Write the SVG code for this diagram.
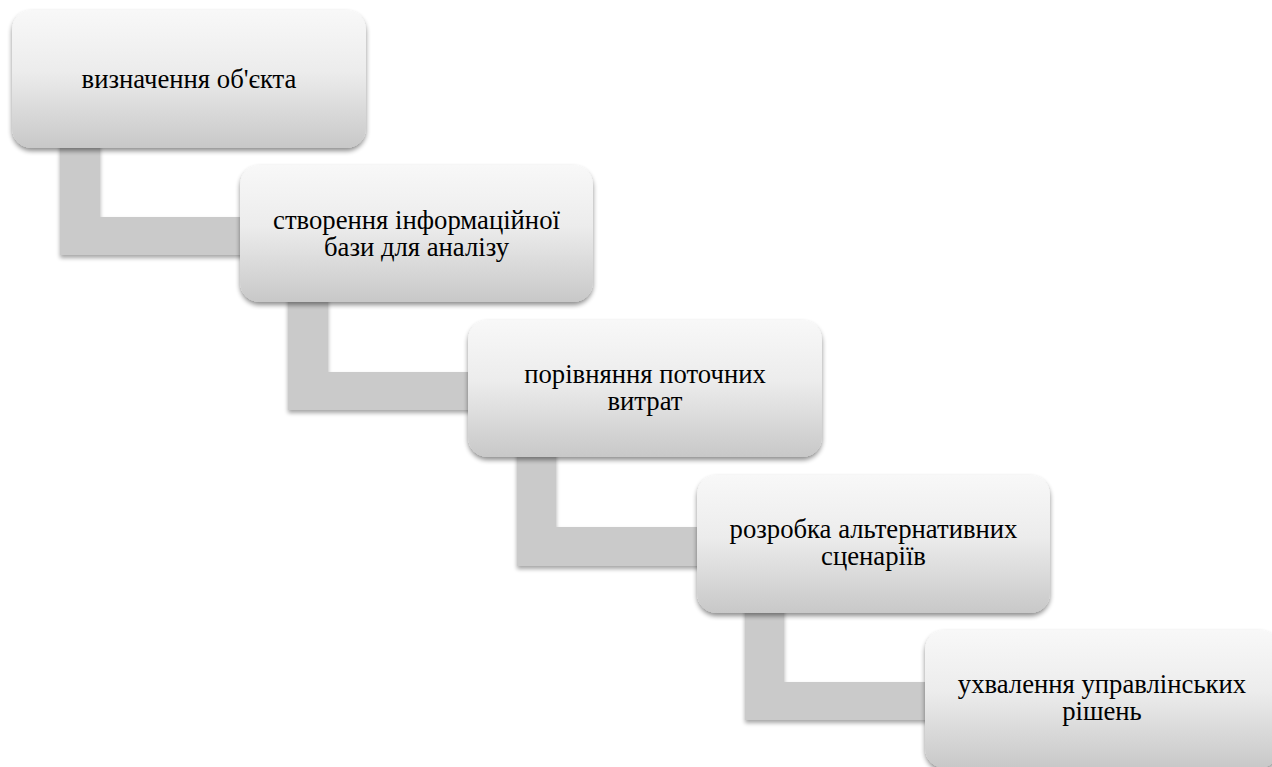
<svg xmlns="http://www.w3.org/2000/svg" width="1272" height="767" viewBox="0 0 1272 767">
  <defs>
    <linearGradient id="boxGrad" x1="0" y1="0" x2="0" y2="1">
      <stop offset="0" stop-color="#f8f8f8"/>
      <stop offset="0.45" stop-color="#ececec"/>
      <stop offset="1" stop-color="#c8c8c8"/>
    </linearGradient>
    <filter id="shadow" x="-10%" y="-10%" width="120%" height="125%">
      <feGaussianBlur in="SourceAlpha" stdDeviation="2.5"/>
      <feOffset dx="0" dy="3" result="b"/>
      <feComponentTransfer><feFuncA type="linear" slope="0.45"/></feComponentTransfer>
      <feMerge><feMergeNode/><feMergeNode in="SourceGraphic"/></feMerge>
    </filter>
    <filter id="cshadow" x="-10%" y="-10%" width="120%" height="125%">
      <feGaussianBlur in="SourceAlpha" stdDeviation="2"/>
      <feOffset dx="0" dy="3" result="b"/>
      <feComponentTransfer><feFuncA type="linear" slope="0.35"/></feComponentTransfer>
      <feMerge><feMergeNode/><feMergeNode in="SourceGraphic"/></feMerge>
    </filter>
  </defs>
  <style>
    .box { fill: url(#boxGrad); filter: url(#shadow); }
    .conn { fill: #cacaca; filter: url(#cshadow); }
    .lbl { font-family: "Liberation Serif", "Times New Roman", serif; font-size: 26.7px; fill: #000; text-anchor: middle; }
  </style>
  <rect width="1272" height="767" fill="#ffffff"/>
  <g id="connectors">
    <path class="conn" d="M60 140 H100 V217 H260 V255 H60 Z"/>
    <path class="conn" d="M288 295 H328 V372 H488 V410 H288 Z"/>
    <path class="conn" d="M517 450 H556 V527 H717 V566 H517 Z"/>
    <path class="conn" d="M745 605 H784 V682 H945 V720 H745 Z"/>
  </g>
  <g id="node1">
    <rect class="box" x="12" y="10" width="354" height="138" rx="20"/>
    <text class="lbl" x="189" y="88">визначення об'єкта</text>
  </g>
  <g id="node2">
    <rect class="box" x="240" y="165" width="353" height="137" rx="20"/>
    <text class="lbl" x="416.5" y="229">створення інформаційної</text>
    <text class="lbl" x="416.5" y="256">бази для аналізу</text>
  </g>
  <g id="node3">
    <rect class="box" x="468" y="320" width="354" height="137" rx="20"/>
    <text class="lbl" x="645" y="383">порівняння поточних</text>
    <text class="lbl" x="645" y="410">витрат</text>
  </g>
  <g id="node4">
    <rect class="box" x="697" y="475" width="353" height="138" rx="20"/>
    <text class="lbl" x="873.5" y="538">розробка альтернативних</text>
    <text class="lbl" x="873.5" y="565">сценаріїв</text>
  </g>
  <g id="node5">
    <rect class="box" x="925" y="630" width="354" height="138" rx="20"/>
    <text class="lbl" x="1102" y="693">ухвалення управлінських</text>
    <text class="lbl" x="1102" y="720">рішень</text>
  </g>
</svg>
